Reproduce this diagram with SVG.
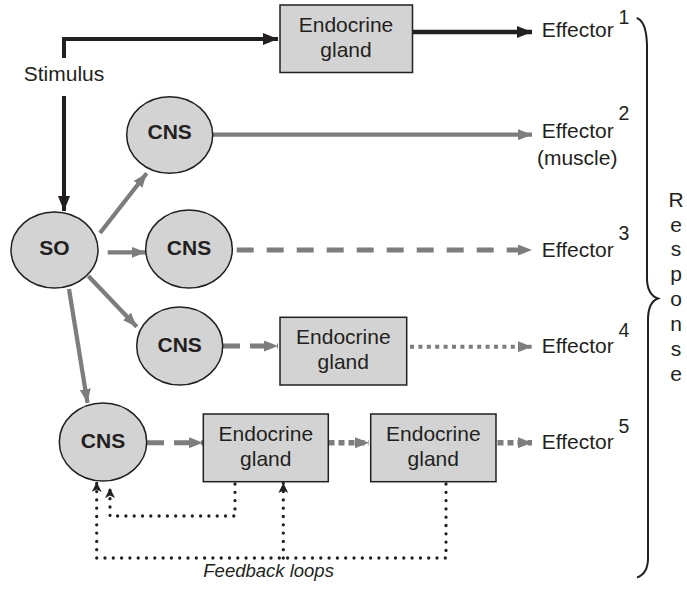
<svg xmlns="http://www.w3.org/2000/svg" width="687" height="590" viewBox="0 0 687 590">
<style>
  .txt { font-family: "Liberation Sans", Arial, sans-serif; font-size: 21px; fill: #231f20; }
  .mid { text-anchor: middle; }
  .bold { font-weight: bold; }
  .sup { font-family: "Liberation Sans", Arial, sans-serif; font-size: 19.5px; fill: #231f20; }
  .ital { font-style: italic; font-size: 18.5px; }
  .node { fill: #d3d3d3; stroke: #231f20; stroke-width: 1.5; }
  .blk { fill: none; stroke: #231f20; stroke-width: 4; }
  .gry { fill: none; stroke: #7d7d7d; stroke-width: 4.3; }
  .dash { stroke-dasharray: 17 13; stroke-width: 5; }
  .sdash { stroke-dasharray: 17 10; stroke-width: 5; }
  .dot { stroke-dasharray: 4 4.4; stroke-width: 4; }
  .bigdot { stroke-dasharray: 6 4; stroke-width: 5.5; }
  .fb { fill: none; stroke: #231f20; stroke-width: 3.3; stroke-linecap: round; stroke-dasharray: 0 8.3; }
  .brace { fill: none; stroke: #231f20; stroke-width: 2; }
</style>
<defs>
  <marker id="arrBlack" markerUnits="userSpaceOnUse" markerWidth="15" markerHeight="12" refX="15" refY="6" orient="auto">
    <path d="M0,0 L15,6 L0,12 z" fill="#231f20"/>
  </marker>
  <marker id="arrGray" markerUnits="userSpaceOnUse" markerWidth="14" markerHeight="11" refX="14" refY="5.5" orient="auto">
    <path d="M0,0 L14,5.5 L0,11 z" fill="#7d7d7d"/>
  </marker>
  <marker id="arrFb" markerUnits="userSpaceOnUse" markerWidth="10" markerHeight="10" refX="10" refY="5" orient="auto">
    <path d="M0,0 L10,5 L0,10 L2.5,5 z" fill="#231f20"/>
  </marker>
</defs>

<g id="connectors">
  <path class="blk" d="M64,58 V39 H278" marker-end="url(#arrBlack)"/>
  <path class="blk" d="M64,96 V211" marker-end="url(#arrBlack)"/>
  <path class="blk" style="stroke-width:4.5" d="M413,32 H532" marker-end="url(#arrBlack)"/>
  <path class="gry" d="M100,233 L146.7,173.3" marker-end="url(#arrGray)"/>
  <path class="gry" d="M107.7,252.3 L145.7,252.3" marker-end="url(#arrGray)"/>
  <path class="gry" d="M88.3,276 L136.7,326.7" marker-end="url(#arrGray)"/>
  <path class="gry" d="M69,289 L87.5,403" marker-end="url(#arrGray)"/>
  <path class="gry" d="M213,134.7 H532" marker-end="url(#arrGray)"/>
  <path class="gry dash" d="M236.7,250 H532" marker-end="url(#arrGray)"/>
  <path class="gry sdash" d="M223,346 H278" marker-end="url(#arrGray)"/>
  <path class="gry dot" d="M410,346.7 H532" marker-end="url(#arrGray)"/>
  <path class="gry sdash" d="M147,442.7 H203" marker-end="url(#arrGray)"/>
  <path class="gry bigdot" d="M328.5,442.7 H369" marker-end="url(#arrGray)"/>
  <path class="gry bigdot" d="M497.5,442.7 H532" marker-end="url(#arrGray)"/>
  <path class="fb" d="M235,484 V516 H110 V488" marker-end="url(#arrFb)"/>
  <path class="fb" d="M446,484 V558 H96.7 V482" marker-end="url(#arrFb)"/>
  <path class="fb" d="M283.3,558 V483" marker-end="url(#arrFb)"/>
</g>

<g id="stimulus">
  <text class="txt mid" x="64" y="81">Stimulus</text>
</g>

<g id="gland1">
  <rect class="node" x="280" y="5" width="132.5" height="67.5"/>
  <text class="txt mid" x="346" y="31.5">Endocrine</text>
  <text class="txt mid" x="346" y="56.5">gland</text>
</g>

<g id="so">
  <ellipse class="node" cx="54.5" cy="250" rx="43.5" ry="38"/>
  <text class="txt mid bold" x="54.5" y="255">SO</text>
</g>

<g id="cns1">
  <ellipse class="node" cx="169.7" cy="135" rx="43" ry="38.3"/>
  <text class="txt mid bold" x="169.7" y="138.5">CNS</text>
</g>

<g id="cns2">
  <ellipse class="node" cx="189" cy="249" rx="43.3" ry="39"/>
  <text class="txt mid bold" x="189" y="255">CNS</text>
</g>

<g id="cns3">
  <ellipse class="node" cx="179.7" cy="346" rx="43" ry="39"/>
  <text class="txt mid bold" x="179.7" y="351.5">CNS</text>
</g>

<g id="gland2">
  <rect class="node" x="280" y="317.3" width="126.7" height="67.7"/>
  <text class="txt mid" x="343.3" y="343.5">Endocrine</text>
  <text class="txt mid" x="343.3" y="368.5">gland</text>
</g>

<g id="cns4">
  <ellipse class="node" cx="103" cy="442" rx="43.7" ry="39"/>
  <text class="txt mid bold" x="103" y="448">CNS</text>
</g>

<g id="gland3">
  <rect class="node" x="203.3" y="414" width="125" height="67.7"/>
  <text class="txt mid" x="265.8" y="440.5">Endocrine</text>
  <text class="txt mid" x="265.8" y="465.5">gland</text>
</g>

<g id="gland4">
  <rect class="node" x="370.7" y="414" width="125.3" height="67.7"/>
  <text class="txt mid" x="433.3" y="440.5">Endocrine</text>
  <text class="txt mid" x="433.3" y="465.5">gland</text>
</g>

<g id="effector1">
  <text class="txt" x="541.7" y="36.7">Effector</text>
  <text class="sup" x="618.5" y="24">1</text>
</g>
<g id="effector2">
  <text class="txt" x="541.7" y="138.3">Effector</text>
  <text class="sup" x="618.5" y="120">2</text>
  <text class="txt mid" x="577.2" y="165">(muscle)</text>
</g>
<g id="effector3">
  <text class="txt" x="541.7" y="256.7">Effector</text>
  <text class="sup" x="618.5" y="240">3</text>
</g>
<g id="effector4">
  <text class="txt" x="541.7" y="353.3">Effector</text>
  <text class="sup" x="618.5" y="336.7">4</text>
</g>
<g id="effector5">
  <text class="txt" x="541.7" y="449.3">Effector</text>
  <text class="sup" x="618.5" y="432.7">5</text>
</g>

<g id="response">
  <path class="brace" d="M636.7,18 C643,20 646.5,28 647,45 L647,278 C647,290 651,296 658,298.5 C651,301 648,308 648,320 L648,558 C648,568 644,575 637,577.5"/>
  <text class="txt mid" x="676" y="207">R</text>
  <text class="txt mid" x="676" y="231.5">e</text>
  <text class="txt mid" x="676" y="256">s</text>
  <text class="txt mid" x="676" y="281">p</text>
  <text class="txt mid" x="676" y="306">o</text>
  <text class="txt mid" x="676" y="331">n</text>
  <text class="txt mid" x="676" y="356">s</text>
  <text class="txt mid" x="676" y="381">e</text>
</g>

<g id="feedback-label">
  <text class="txt ital" x="203.3" y="576.7">Feedback loops</text>
</g>
</svg>
